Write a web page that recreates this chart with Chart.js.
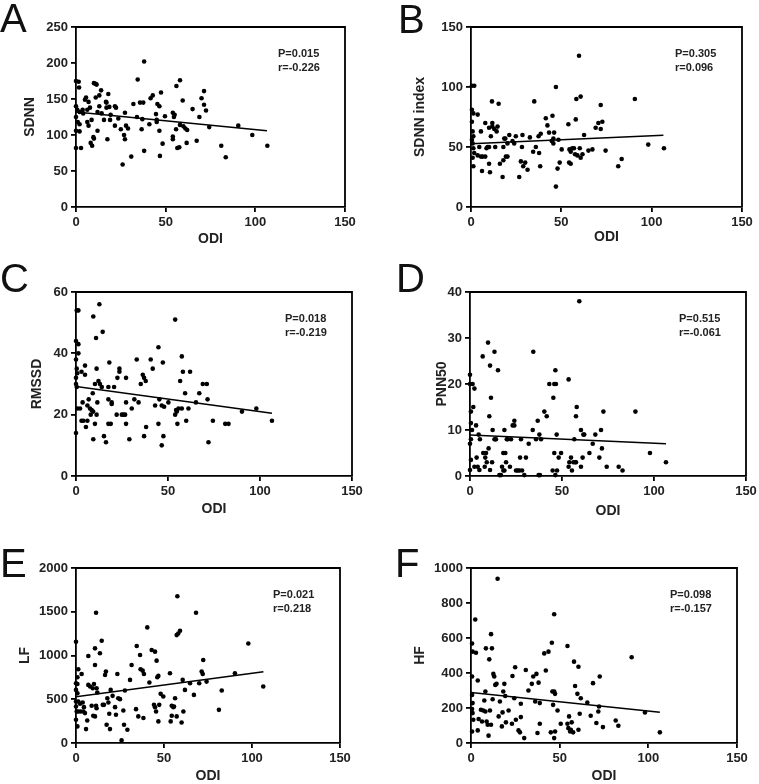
<!DOCTYPE html>
<html>
<head>
<meta charset="utf-8">
<title>HRV vs ODI</title>
<script src="https://cdn.jsdelivr.net/npm/chart.js@4.4.0/dist/chart.umd.min.js"></script>
<style>
  html, body { margin: 0; padding: 0; background: #fff; }
  #wrap { position: relative; width: 759px; height: 784px; overflow: hidden; }
  #wrap canvas { position: absolute; }
  .tag { position: absolute; font-family: 'Liberation Sans', Arial, sans-serif; font-size: 40px; line-height: 40px; color: #111; }
</style>
</head>
<body>
<div id="wrap"></div>
<script>
// ---- data: [ODI, value] ----
const sdnnPts = [[0,175],[1.5,174],[1.7,166],[0,140],[0.7,135],[2,132],[0,125],[1,118],[2,115],[0,106],[2,105],[0,82],[2.8,82],
  [3.7,135],[4,130],[5,149],[5.6,152],[6.3,135],[6.3,118],[7,113],[7,146],[7.8,138],[8.7,121],[8.2,89],[9,85],[9.7,97],[10,95],
  [10,172],[11,171],[11.5,170],[11,152],[12,132],[12,106],[13,140],[13,155],[14,162],[14.3,130],[15.6,121],[16.7,146],[17,145],
  [17,138],[17.5,94],[18,157],[18.6,139],[19,121],[19.3,128],[21.7,140],[22.3,138],[21.7,113],[23.6,123],[25,108],[26,59],
  [27.3,131],[27.9,113],[26.8,100],[27.3,94],[29,109],[30.8,70],[32,143],[34.4,177],[34,125],[35.7,145],[36.6,108],[37.5,145],
  [37,122],[38,202],[38,78],[40.9,115],[41.6,151],[42.8,155],[44.6,129],[45,118],[45,121],[45.4,143],[46.5,140],[46.5,106],
  [46.8,71],[47.4,159],[48.3,88],[49.6,126],[54,131],[54,98],[54,94],[54.6,125],[55,128],[55.8,108],[56,168],[56.5,82],[57.6,83],
  [58,176],[58,114],[59.5,148],[59.9,112],[61,109],[61.7,89],[62,107],[65,136],[67.3,92],[68.8,125],[70,151],[71.4,161],
  [71.4,142],[72.5,134],[74.3,111],[81,85],[83.5,69],[90.5,113],[98.3,100],[106.7,85]];

const sdnnIdxPts = [[0.5,101],[1.8,101],[0.5,81],[1.3,78],[0.5,71],[0.9,63],[1.3,59],[0.5,56],[0.9,53],[1.3,49],[1.8,45],[0.9,41],
  [1.3,34],[3.7,77],[4.6,50],[3.7,43],[5.5,42],[6.4,42],[5.5,63],[6.1,30],[7.9,42],[7.9,70],[8.6,49],[9.2,50],[10,50],[10,36],
  [10.5,29],[10,66],[11,59],[11.6,88],[11.8,70],[11.8,67],[13.4,50],[12.9,65],[14.2,63],[14.7,67],[15.3,86],[16,36],[17.5,25],
  [17.9,39],[17.9,50],[18.4,57],[19,57],[19.3,42],[20.2,42],[20.2,53],[21.2,60],[23,55],[23.9,53],[24.8,59],[26.7,25],[27.6,38],
  [28.2,50],[28.5,60],[28.9,34],[30,37],[31.3,31],[32.6,58],[34.4,46],[35,88],[35.9,50],[37.4,59],[37.7,45],[38.3,34],[38.6,61],
  [41.4,74],[42.3,68],[43.2,62],[44.7,55],[45.1,76],[45.6,57],[45.6,53],[46,62],[47,100],[47,17],[47.9,32],[48.4,56],[49.1,37],
  [50.2,48],[53.9,69],[54.5,48],[54.3,37],[55.2,36],[55.2,46],[56.1,49],[57,49],[58,73],[58.3,90],[57.6,44],[58.9,43],[59.8,126],
  [60.2,49],[60.7,92],[60.7,41],[61.7,44],[62.6,60],[65,47],[67.2,48],[69,66],[70.5,70],[71.8,85],[71.8,65],[72.7,71],[74.5,47],
  [81.5,34],[83.4,40],[90.7,90],[98.1,52],[106.8,49]];

const rmssdPts = [[0.4,54],[1.3,54],[0,44],[1.3,43],[1.3,40],[0,38],[0.4,35],[0.7,33.5],[0,32],[0,30],[0.4,29],[0.7,22],[2.2,22],
  [0,14],[3,34],[3.6,24],[3,18],[4,18],[4.9,33],[4.9,36],[5.4,16],[6.2,18],[6.2,23],[6.9,25],[7.6,22],[8,20],[8.5,21.5],[9.3,21],
  [9.1,27],[9.4,52],[9.4,12],[10.3,30],[10.3,17],[10.9,45],[11.2,35],[11.2,20],[11.6,24],[12.2,31],[12.7,56],[13,30],[14,29],
  [14.5,47],[15.2,13],[16.3,11],[17.6,29],[17.6,25],[17.6,17],[18.1,37],[18.9,17],[19.4,23.5],[19.4,24],[20.7,29],[22.1,20],
  [22.5,32],[23.6,34],[23.6,35],[24.9,20],[25.8,20],[26.7,20],[27.2,32],[27.2,24],[27.2,17],[29,12],[30.3,22],[31.7,25],[33,38],
  [34,24],[35.2,30],[36.3,33],[37,32],[37,13],[37.9,31],[38.1,16],[40.6,38],[41.7,35],[43,23],[44.8,42],[44.8,17],[45.3,25],
  [46.6,23],[47.2,37],[47.5,13],[47.9,22.6],[46.6,10],[50.2,24],[53.9,51],[53.9,20],[54.4,21.5],[54.8,21],[55.1,17],[55.7,22],
  [56.6,31],[57.5,22],[57.5,39],[58.1,34],[59.3,27],[59.9,18],[61.1,22],[62,34],[65.2,24],[67,27],[68.9,30],[71.1,30],[71.5,25],
  [72,11],[74.4,18],[81.1,17],[82.9,17],[90.2,21],[98,22],[106.5,18]];

const pnn50Pts = [[0,20],[0,22],[0.5,14],[0.5,11.5],[1.1,10],[0.5,8],[0,7],[0.5,3.5],[0,1.3],[1.4,20],[2.4,19],[1.8,15],[2.4,2],
  [3.3,11],[4.2,2],[3.6,4],[4.7,9],[5.4,8],[5.1,1.3],[6.9,26],[7.2,5],[8,2],[8.7,5],[9.1,3],[8.3,4],[9.8,29],[10.1,6],[10.5,13],
  [10.9,24],[11.4,17],[10.9,1.3],[12,3],[12.3,10],[13.3,27],[13.3,8],[13.8,8],[14.1,8],[15.2,23],[16,0.2],[16.8,0.2],[17.4,2],
  [18.1,1.2],[18.7,10],[18.1,5],[19.2,5],[19.6,3],[18.7,1.2],[20,8],[20.5,8],[21.7,2],[22.3,8],[23.2,11],[24.1,12],[24.1,11],
  [25,1.2],[25.9,1.2],[26.8,1.2],[27.2,4],[27.7,8],[28.3,1.2],[29.5,0.2],[30.4,4],[31.9,7],[34.1,10],[34.4,27],[35.9,8],[36.8,12],
  [37.3,0.2],[38,0.2],[37.7,9],[38.6,8],[40.4,14],[41.7,13],[43.1,20],[44.9,1.2],[45.3,17],[45.8,5],[45.8,20],[46.4,23],[46.4,0.2],
  [46.7,20],[47.1,9],[47.3,1.2],[48.2,4],[49.5,5],[53.6,21],[53.6,2],[54,3],[54.9,4],[55.4,1.2],[56.2,3],[56.7,8],[57.2,3],[57.6,3],
  [57.6,13],[58,15],[59.4,38],[60.3,2],[60.3,10],[61.2,4],[61.6,9],[62.1,9],[64.9,5],[66.7,7],[68.1,9],[70.3,4],[71.2,10],[71.7,6],
  [72.5,14],[74.3,2],[80.8,2],[82.9,1.2],[89.9,14],[97.8,5],[106.5,3]];

const lfPts = [[0,1157],[0.8,751],[0,683],[0.8,675],[0,607],[0.8,569],[0,474],[1.3,474],[0,417],[0.4,360],[1.3,360],[0,266],
  [0.8,190],[1.3,843],[2.3,448],[2.7,360],[3.2,789],[3.8,463],[4.2,360],[4.5,410],[5.1,342],[5.7,159],[6.4,258],[7,994],[7,664],
  [8,645],[8.9,425],[9.5,626],[9.8,311],[10.2,675],[10.8,892],[10.8,1082],[10.8,304],[11.4,1488],[11.4,425],[11.7,626],[11.7,398],
  [12.1,577],[13.6,1025],[14.6,1169],[15.2,436],[15.9,436],[16.5,778],[17,816],[17.4,209],[17.8,512],[18.4,463],[18.9,334],
  [19.3,159],[19.7,607],[20.8,539],[22.2,410],[22.7,323],[23.5,789],[24,512],[25,501],[25.9,30],[26.9,372],[27.3,209],[27.8,600],
  [29.2,152],[30.7,721],[31.6,892],[34.1,387],[34.5,1108],[35.4,304],[36.4,1006],[36.7,843],[37.9,827],[38.3,285],[38.6,789],
  [40.5,1321],[41.7,691],[43,1063],[44.3,436],[44.9,1044],[44.9,410],[45.5,360],[45.8,941],[46.2,751],[46.8,767],[46.8,247],
  [47.3,436],[48.1,562],[49.6,531],[53.4,797],[53.8,247],[54.4,311],[54.4,425],[55.3,410],[56.3,512],[55.7,417],[57.2,304],
  [57.2,1233],[57.6,1677],[58.1,1252],[59.1,1283],[60,235],[60.6,721],[61,360],[61.9,607],[64.8,683],[67,550],[68.2,1488],
  [70,683],[71.4,816],[72,789],[72.3,949],[74.2,702],[81.2,379],[82.8,600],[90.3,797],[97.9,1138],[106.4,645]];

const hfPts = [[0.6,569],[0.9,522],[0.6,380],[0.6,275],[0.9,228],[0.6,194],[0.9,171],[1.3,133],[0.6,66],[2.4,706],[2.8,516],
  [3.8,357],[3.8,72],[4.3,137],[5.6,190],[6.2,123],[6.9,186],[7.5,243],[8.1,180],[8.1,294],[8.4,541],[8.8,123],[9.4,104],[9.9,42],
  [10.3,478],[10.7,186],[11.3,622],[11.3,104],[11.8,541],[12.2,250],[12.6,395],[13.1,380],[13.7,332],[14.4,338],[15,939],[15.6,152],
  [16.3,237],[17.4,95],[17.8,175],[18.2,294],[18.8,338],[19.3,269],[19.7,118],[21.2,186],[23.1,110],[23.4,383],[24.4,256],[24.9,433],
  [25.3,133],[26.8,72],[27.6,61],[28.1,224],[28.1,148],[30,28],[30.9,417],[32.4,300],[34.3,338],[35.1,380],[36.2,237],[36.9,395],
  [37.5,57],[38.1,345],[38.8,110],[38.8,228],[41.3,512],[42.2,414],[43.7,522],[45,61],[45.6,573],[45.9,294],[46.3,218],[46.9,736],
  [46.9,294],[46.9,28],[47.4,281],[47.4,66],[48.8,186],[50.6,110],[54.4,554],[54.4,110],[54.9,85],[55.3,152],[55.9,66],[56.3,76],
  [56.8,118],[57.6,61],[58.1,465],[58.7,326],[60,281],[60.6,76],[60.6,436],[61.3,167],[61.9,256],[65.6,231],[67.5,156],[68.8,342],
  [70.7,114],[71.8,180],[72.2,209],[72.6,380],[74.4,91],[81.6,129],[83.1,99],[90.6,490],[98.1,175],[106.5,61]];

// regression lines: ODI at both ends, and fitted value at each end
const fitOdi = [0, 106.5];
const sdnnFit = [132, 106];
const sdnnIdxFit = [52.8, 59.8];
const rmssdFit = [29.2, 20.5];
const pnn50Fit = [8.9, 7.0];
const lfFit = [529, 815];
const hfFit = [289, 176];

const statP = ['P=0.015', 'P=0.305', 'P=0.018', 'P=0.515', 'P=0.021', 'P=0.098'];
const statR = ['r=-0.226', 'r=0.096', 'r=-0.219', 'r=-0.061', 'r=0.218', 'r=-0.157'];
const yTitles = ['SDNN', 'SDNN index', 'RMSSD', 'PNN50', 'LF', 'HF'];
const yMaxes = [250, 150, 60, 40, 2000, 1000];
const ySteps = [50, 50, 20, 10, 500, 200];
const xTicks = [0, 50, 100, 150];

// layout of each panel (plot box in page pixels)
const layout = [
  { tag: 'A', plot: [76, 27, 345, 207],  yW: 54, xH: 41, tagPos: [0, -2] },
  { tag: 'B', plot: [471, 27, 742, 207], yW: 59, xH: 39, tagPos: [398, -1] },
  { tag: 'C', plot: [76, 292, 352, 476], yW: 47, xH: 42, tagPos: [0, 258] },
  { tag: 'D', plot: [470, 292, 746, 476], yW: 36, xH: 44, tagPos: [396, 258] },
  { tag: 'E', plot: [76, 568, 340, 743], yW: 59, xH: 42, tagPos: [0, 543] },
  { tag: 'F', plot: [471, 568, 737, 743], yW: 59, xH: 42, tagPos: [395, 543] }
];
const pointSets = [sdnnPts, sdnnIdxPts, rmssdPts, pnn50Pts, lfPts, hfPts];
const fitSets = [sdnnFit, sdnnIdxFit, rmssdFit, pnn50Fit, lfFit, hfFit];

Chart.defaults.font.family = "'Liberation Sans', Arial, sans-serif";
Chart.defaults.color = '#222';

// top and right sides of the Prism-style box
const frame = {
    id: 'frame',
    beforeDatasetsDraw(chart) {
        const { ctx, chartArea: a } = chart;
        ctx.save();
        ctx.strokeStyle = '#000';
        ctx.lineWidth = 1.8;
        ctx.beginPath();
        ctx.moveTo(a.left, a.top);
        ctx.lineTo(a.right, a.top);
        ctx.lineTo(a.right, a.bottom);
        ctx.stroke();
        ctx.restore();
    }
};

// P / r text in the upper right corner
const stats = {
    id: 'stats',
    afterDatasetsDraw(chart, args, opts) {
        const { ctx, chartArea: a } = chart;
        ctx.save();
        ctx.fillStyle = '#222';
        ctx.font = "bold 11px 'Liberation Sans', Arial, sans-serif";
        ctx.textAlign = 'left';
        ctx.textBaseline = 'alphabetic';
        ctx.fillText(opts.p, a.right - 67, a.top + 30);
        ctx.fillText(opts.r, a.right - 67, a.top + 44);
        ctx.restore();
    }
};

const wrap = document.getElementById('wrap');
const padTop = 12, padRight = 22;

layout.forEach((L, i) => {
    const [pl, pt, pr, pb] = L.plot;
    const canvas = document.createElement('canvas');
    canvas.width = L.yW + (pr - pl) + padRight;
    canvas.height = padTop + (pb - pt) + L.xH;
    canvas.style.left = (pl - L.yW) + 'px';
    canvas.style.top = (pt - padTop) + 'px';
    wrap.appendChild(canvas);

    const tag = document.createElement('div');
    tag.className = 'tag';
    tag.textContent = L.tag;
    tag.style.left = L.tagPos[0] + 'px';
    tag.style.top = L.tagPos[1] + 'px';
    wrap.appendChild(tag);

    const axisLine = { display: true, color: '#000', width: 1.8 };
    const tickMarks = { display: true, drawOnChartArea: false, drawTicks: true, tickLength: 5, color: '#000', lineWidth: 1.8 };
    const tickFont = { size: 13, weight: 'bold' };
    const titleFont = { size: 14, weight: 'bold', lineHeight: 1.2 };
    const plain = v => String(v);   // no thousands separator

    new Chart(canvas.getContext('2d'), {
        type: 'scatter',
        data: {
            datasets: [{
                data: pointSets[i].map(p => ({ x: p[0], y: p[1] })),
                pointRadius: 2.3,
                pointHoverRadius: 2.3,
                backgroundColor: '#000',
                borderWidth: 0,
                clip: false
            }, {
                type: 'line',
                data: fitOdi.map((x, k) => ({ x: x, y: fitSets[i][k] })),
                borderColor: '#000',
                borderWidth: 1.5,
                pointRadius: 0,
                showLine: true,
                fill: false
            }]
        },
        options: {
            responsive: false,
            animation: false,
            events: [],
            layout: { padding: { left: 0, top: padTop, right: padRight, bottom: 0 } },
            plugins: {
                legend: { display: false },
                tooltip: { enabled: false },
                stats: { p: statP[i], r: statR[i] }
            },
            scales: {
                x: {
                    type: 'linear',
                    min: 0,
                    max: 150,
                    afterBuildTicks: s => { s.ticks = xTicks.map(v => ({ value: v })); },
                    afterFit: s => { s.height = L.xH; },
                    border: axisLine,
                    grid: tickMarks,
                    ticks: { font: tickFont, padding: 3, color: '#222', maxRotation: 0, callback: plain },
                    title: { display: true, text: 'ODI', font: titleFont, padding: 0, color: '#222' }
                },
                y: {
                    type: 'linear',
                    min: 0,
                    max: yMaxes[i],
                    afterFit: s => { s.width = L.yW; },
                    border: axisLine,
                    grid: tickMarks,
                    ticks: { stepSize: ySteps[i], font: tickFont, padding: 3, color: '#222', callback: plain },
                    title: { display: true, text: yTitles[i], font: titleFont, padding: 0, color: '#222' }
                }
            }
        },
        plugins: [frame, stats]
    });
});
</script>
</body>
</html>
